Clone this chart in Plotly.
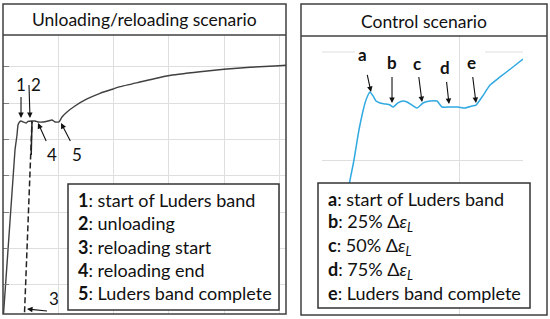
import plotly.graph_objects as go

W, H = 550, 319
FONT = "Lato"

# ---------------- data ----------------
# Left panel: unloading / reloading test (strain %, stress MPa)
left_load_strain = [0, 0.434, 0.507, 0.543, 0.597, 0.652, 0.724, 0.833, 0.905, 1.050]
left_load_stress = [0, 471.5, 512.8, 540.3, 548.6, 551.4, 548.6, 545.8, 550.0, 551.4]
left_unload_strain = [1.050, 1.021]
left_unload_stress = [551.4, 457.8]
left_reload_strain = [0.767, 1.050]
left_reload_stress = [0, 551.4]
left_post_strain = [1.050, 1.158, 1.267, 1.448, 1.629, 1.774, 1.882, 2.027, 2.136, 2.317,
                    2.606, 3.041, 3.511, 3.982, 4.235, 4.959, 5.973, 7.131, 8.000, 8.941,
                    9.991, 10.244]
left_post_stress = [551.4, 551.4, 548.6, 548.6, 551.4, 554.1, 548.6, 548.6, 562.3, 576.1,
                    592.6, 611.9, 627.6, 639.4, 645.7, 658.6, 676.0, 687.0, 693.6, 699.1,
                    703.5, 704.6]

# Right panel: control test (strain %, stress MPa)
right_strain = [0.350, 0.409, 0.467, 0.526, 0.569, 0.628, 0.672, 0.701, 0.745, 0.788,
                0.847, 0.920, 0.993, 1.036, 1.109, 1.182, 1.241, 1.314, 1.387, 1.474,
                1.577, 1.679, 1.752, 1.869, 1.985, 2.088, 2.190, 2.248, 2.336, 2.453,
                2.599, 2.788, 2.934]
right_stress = [363.0, 381.5, 400.0, 423.1, 437.0, 452.8, 460.2, 463.0, 459.3, 454.6,
                452.8, 451.9, 450.9, 449.1, 452.8, 454.6, 453.7, 450.9, 448.1, 452.8,
                454.6, 454.6, 449.1, 449.1, 449.1, 448.1, 450.0, 450.9, 458.3, 469.4,
                476.9, 486.1, 493.5]

titles = ["Unloading/reloading scenario", "Control scenario"]

left_keys = ["1", "2", "3", "4", "5"]
left_desc = ["start of Luders band", "unloading", "reloading start", "reloading end",
             "Luders band complete"]
right_keys = ["a", "b", "c", "d", "e"]
right_desc = ["start of Luders band", "25% Δ<i>ε</i><sub><i>L</i></sub>",
              "50% Δ<i>ε</i><sub><i>L</i></sub>", "75% Δ<i>ε</i><sub><i>L</i></sub>",
              "Luders band complete"]

# points (strain, stress) the arrows point to
left_marks = {"1": (0.652, 559.6), "2": (0.977, 559.6), "3": (0.869, 33.9),
              "4": (1.267, 545.8), "5": (2.100, 545.8)}
right_marks = {"a": (0.715, 463.0), "b": (1.022, 452.8), "c": (1.460, 453.7),
               "d": (1.854, 451.9), "e": (2.248, 452.8)}

# ---------------- figure ----------------
def px(x):
    return x / W

def py(y):
    return 1 - y / H

GREY = "#404040"
BLUE = "#31a9e1"
GRID = "#dedede"
INK = "#111111"

fig = go.Figure()
fig.add_trace(go.Scatter(x=left_load_strain, y=left_load_stress, mode="lines",
                         line=dict(color=GREY, width=1.4, shape="spline", smoothing=0.4),
                         xaxis="x", yaxis="y", showlegend=False, hoverinfo="skip"))
fig.add_trace(go.Scatter(x=left_unload_strain, y=left_unload_stress, mode="lines",
                         line=dict(color="#222222", width=1.5),
                         xaxis="x", yaxis="y", showlegend=False, hoverinfo="skip"))
fig.add_trace(go.Scatter(x=left_reload_strain, y=left_reload_stress, mode="lines",
                         line=dict(color="#222222", width=1.5, dash="6px,3px"),
                         xaxis="x", yaxis="y", showlegend=False, hoverinfo="skip"))
fig.add_trace(go.Scatter(x=left_post_strain, y=left_post_stress, mode="lines",
                         line=dict(color=GREY, width=1.4, shape="spline", smoothing=0.4),
                         xaxis="x", yaxis="y", showlegend=False, hoverinfo="skip"))
fig.add_trace(go.Scatter(x=right_strain, y=right_stress, mode="lines",
                         line=dict(color=BLUE, width=1.5, shape="spline", smoothing=0.5),
                         xaxis="x2", yaxis="y2", showlegend=False, hoverinfo="skip"))

ax_common = dict(showticklabels=False, zeroline=False, showline=False,
                 gridcolor=GRID, gridwidth=1, fixedrange=True)

fig.update_layout(
    width=W, height=H,
    margin=dict(l=0, r=0, t=0, b=0, pad=0),
    paper_bgcolor="white", plot_bgcolor="white",
    font=dict(family=FONT, color=INK),
    xaxis=dict(domain=[px(3), px(286)], range=[0, 10.244], dtick=2, tick0=0,
               showgrid=True, ticks="", **ax_common),
    yaxis=dict(domain=[py(314), py(35)], range=[20.1, 788.0], dtick=100, tick0=0,
               showgrid=True, ticks="inside", ticklen=6, tickcolor="#7f7f7f",
               anchor="x", **ax_common),
    xaxis2=dict(domain=[px(322), px(523)], range=[0, 2.934], tickvals=[2],
                showgrid=True, ticks="", anchor="y2", **ax_common),
    yaxis2=dict(domain=[py(315), py(36)], range=[256.5, 514.8], tickvals=[300, 400],
                showgrid=True, ticks="", anchor="x2", **ax_common),
)

shapes = []
# top gridline of right panel (interrupted behind the labels)
for a, b in [(0, 0.482), (2.380, 2.934)]:
    shapes.append(dict(type="line", xref="x2", yref="y2", x0=a, x1=b, y0=500, y1=500,
                       line=dict(color=GRID, width=1), layer="below"))
# panel frames and title separators
for (x0, x1, y0, y1, yt) in [(3, 286, 4, 314, 35), (301, 547, 4, 315, 36)]:
    shapes.append(dict(type="rect", xref="paper", yref="paper", x0=px(x0), x1=px(x1),
                       y0=py(y1), y1=py(y0), line=dict(color=GREY, width=1.5),
                       fillcolor="rgba(0,0,0,0)", layer="above"))
    shapes.append(dict(type="line", xref="paper", yref="paper", x0=px(x0), x1=px(x1),
                       y0=py(yt), y1=py(yt), line=dict(color=GREY, width=1.5), layer="above"))
# legend boxes
for (x0, x1, y0, y1) in [(68, 279, 184, 310), (318, 530, 183, 308)]:
    shapes.append(dict(type="rect", xref="paper", yref="paper", x0=px(x0), x1=px(x1),
                       y0=py(y1), y1=py(y0), line=dict(color="#333333", width=1.5),
                       fillcolor="white", layer="above"))
fig.update_layout(shapes=shapes)

ann = []
# titles
for t, cx, cy in [(titles[0], 144, 20), (titles[1], 424, 21)]:
    ann.append(dict(text=t, x=px(cx), y=py(cy), xref="paper", yref="paper",
                    xanchor="center", yanchor="middle", showarrow=False,
                    font=dict(family=FONT, size=17.5, color=INK)))
# legend texts
left_rows = [200, 223, 247, 270, 293]
for k, d, yy in zip(left_keys, left_desc, left_rows):
    ann.append(dict(text=f"<b>{k}</b>: {d}", x=px(76), y=py(yy), xref="paper", yref="paper",
                    xanchor="left", yanchor="middle", showarrow=False,
                    font=dict(family=FONT, size=18, color=INK)))
right_rows = [199, 222, 246, 270, 293]
for k, d, yy in zip(right_keys, right_desc, right_rows):
    ann.append(dict(text=f"<b>{k}</b>: {d}", x=px(326), y=py(yy), xref="paper", yref="paper",
                    xanchor="left", yanchor="middle", showarrow=False,
                    font=dict(family=FONT, size=18, color=INK)))

# labelled arrows: (ax, ay) pixel offset of the label from the tip, anchors, start gap
left_lab = {"1": (0, -33, "center", "middle", 0),
            "2": (-1, -33, "left", "middle", 0),
            "3": (20, 2, "left", "bottom", 0),
            "4": (14, 31, "center", "middle", 1),
            "5": (16, 31, "center", "middle", 1)}
for k in left_keys:
    mx, my = left_marks[k]
    dx, dy, xa, ya, ss = left_lab[k]
    ann.append(dict(x=mx, y=my, xref="x", yref="y", text=k, showarrow=True,
                    ax=dx, ay=dy, xanchor=xa, yanchor=ya,
                    arrowhead=2, arrowsize=1, arrowwidth=1.1, arrowcolor=INK,
                    standoff=0, startstandoff=ss,
                    font=dict(family=FONT, size=17, color=INK)))

right_lab = {"a": (-8, -37, 8), "b": (0, -40, 2), "c": (-5, -39, 2),
             "d": (-4, -36, 2), "e": (-5, -40, 2)}
for k in right_keys:
    mx, my = right_marks[k]
    dx, dy, ss = right_lab[k]
    ann.append(dict(x=mx, y=my, xref="x2", yref="y2", text=f"<b>{k}</b>", showarrow=True,
                    ax=dx, ay=dy, xanchor="center", yanchor="middle",
                    arrowhead=2, arrowsize=1, arrowwidth=1.1, arrowcolor=INK,
                    standoff=0, startstandoff=ss,
                    font=dict(family=FONT, size=17, color=INK)))

fig.update_layout(annotations=ann)
fig.write_html("out.html", config={"displayModeBar": False, "staticPlot": True},
               post_script="document.body.style.margin='0px';document.body.style.overflow='hidden';")
